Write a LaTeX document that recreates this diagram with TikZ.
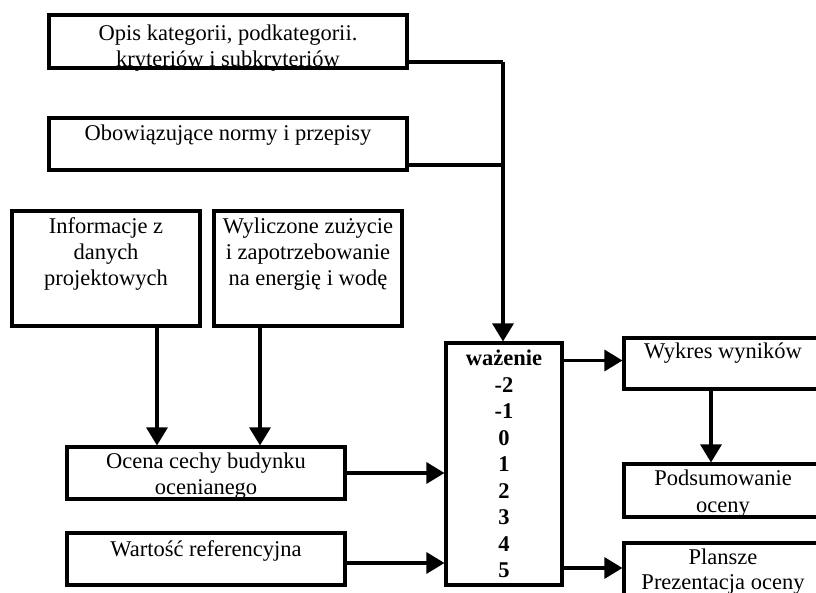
\documentclass[tikz,border=0pt]{standalone}
\usepackage{fontspec}
\setmainfont{Liberation Serif}
\usetikzlibrary{arrows.meta}
\begin{document}
\begin{tikzpicture}[x=1pt,y=-1pt,
  box/.style={draw, line width=3.1pt, inner sep=0pt},
  txt/.style={align=center, inner sep=0pt, anchor=north, font=\fontsize{22.5}{26}\selectfont},
  conn/.style={line width=3.1pt},
  arr/.style={line width=3.1pt, -{Triangle[length=18pt,width=21pt]}}]
\useasboundingbox (0,0) rectangle (816,593);
\clip (0,0) rectangle (816,593);
% text
\node[txt] (t1) at (228,21.8) {\strut Opis kategorii, podkategorii.\\ kryteriów i subkryteriów};
\node[txt] (t2) at (228,121.8) {\strut Obowiązujące normy i przepisy};
\node[txt] (t3) at (106,214.8) {\strut Informacje z\\ danych\\ projektowych};
\node[txt] (t4) at (308,214.8) {\strut Wyliczone zużycie\\ i zapotrzebowanie\\ na energię i wodę};
\node[txt] (t5) at (206,449.8) {\strut Ocena cechy budynku\\ ocenianego};
\node[txt] (t6) at (206,537.8) {\strut Wartość referencyjna};
\node[txt, font=\fontsize{22.5}{26.5}\selectfont\bfseries] (tw) at (504,346.8) {\strut ważenie\\ -2\\ -1\\ 0\\ 1\\ 2\\ 3\\ 4\\ 5};
\node[txt] (twy) at (723,339.8) {\strut Wykres wyników};
\node[txt, font=\fontsize{22.5}{27}\selectfont] (tpo) at (723,466.8) {\strut Podsumowanie\\ oceny};
\node[txt, font=\fontsize{22.5}{25}\selectfont] (tpl) at (723,546.3) {\strut Plansze\\ Prezentacja oceny};
% boxes
\node[box, minimum width=358pt, minimum height=53pt] (b1) at (228,41.5) {};
\node[box, minimum width=358pt, minimum height=52pt] (b2) at (228,144) {};
\node[box, minimum width=188pt, minimum height=115pt] (b3) at (106,268.5) {};
\node[box, minimum width=188pt, minimum height=115pt] (b4) at (308,268.5) {};
\node[box, minimum width=278pt, minimum height=52pt] (oc) at (206,473) {};
\node[box, minimum width=278pt, minimum height=52pt] (wa) at (206,559) {};
\node[box, minimum width=116pt, minimum height=242pt] (w) at (504,464) {};
\node[box, minimum width=198pt, minimum height=51pt] (wy) at (723,363.5) {};
\node[box, minimum width=198pt, minimum height=53pt] (po) at (723,490.5) {};
\node[box, minimum width=198pt, minimum height=56pt] (pl) at (723,571) {};
% connectors
\coordinate (j1) at (503,62);
\coordinate (j2) at (503,165);
\draw[conn] (b1.east |- j1) -- (j1);
\draw[conn] (b2.east |- j2) -- (j2);
\draw[arr] (j1) -- (w.north -| j1);
\draw[arr] ([xshift=51pt]b3.south) -- ([xshift=51pt]b3.south |- oc.north);
\draw[arr] ([xshift=-48pt]b4.south) -- ([xshift=-48pt]b4.south |- oc.north);
\draw[arr] (oc.east) -- (oc.east -| w.west);
\draw[arr] ([yshift=-4pt]wa.east) -- ([yshift=-4pt]wa.east -| w.west);
\draw[arr] ([yshift=3pt]w.east |- wy.west) -- ([yshift=3pt]wy.west);
\draw[arr] ([xshift=-12pt]wy.south) -- ([xshift=-12pt]po.north);
\draw[arr] ([yshift=3pt]w.east |- pl.west) -- ([yshift=3pt]pl.west);
\end{tikzpicture}
\end{document}
